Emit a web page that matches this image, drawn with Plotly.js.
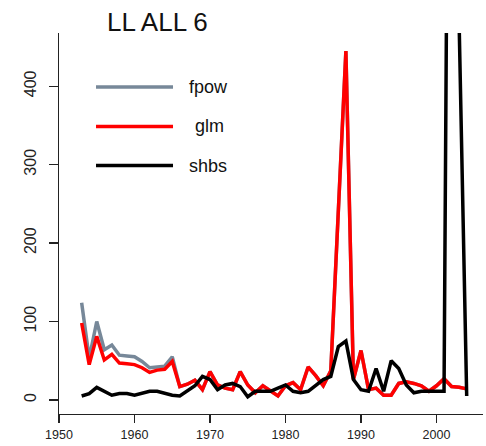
<!DOCTYPE html>
<html>
<head>
<meta charset="utf-8">
<script src="https://cdn.plot.ly/plotly-3.0.1.min.js"></script>
<style>html,body{margin:0;padding:0;background:#fff;}#chart{width:486px;height:446px;}</style>
</head>
<body>
<div id="chart"></div>
<script>
var years = [1953,1954,1955,1956,1957,1958,1959,1960,1961,1962,1963,1964,1965,1966,1967,1968,1969,1970,1971,1972,1973,1974,1975,1976,1977,1978,1979,1980,1981,1982,1983,1984,1985,1986,1987,1988,1989,1990,1991,1992,1993,1994,1995,1996,1997,1998,1999,2000,2001,2002,2003,2004];

var fpow = [124,53,100,64,70,57,56,55,49,41,42,43,55,17,20,25,13,36,19,15,13,36,19,9,18,11,5,18,22,13,42,31,18,37,250,445,26,63,13,15,6,6,21,23,21,18,11,18,27,17,16,14];

var glm = [98,45,81,51,58,47,46,45,41,35,38,39,49,17,20,25,13,36,19,15,13,36,19,9,18,11,5,18,22,13,42,31,18,37,250,445,26,63,13,15,6,6,21,23,21,18,11,18,27,17,16,14];

var shbs = [5,8,16,11,6,8,8,6,8,11,11,8,6,5,11,18,30,26,13,19,21,17,4,11,11,11,15,19,11,9,11,19,26,30,68,75,26,13,11,40,11,50,40,19,9,11,11,11,11,1500,480,5];

var seriesNames = ['fpow','glm','shbs'];
var seriesColors = ['#778899','#ff0000','#000000'];
var xTicks = [1950,1960,1970,1980,1990,2000];
var yTicks = [0,100,200,300,400];

var font = '"Liberation Sans", Arial, Helvetica, sans-serif';
var dataSets = [fpow, glm, shbs];
var traces = dataSets.map(function(d, i){
  return {x: years, y: d, type: 'scatter', mode: 'lines', name: seriesNames[i],
          line: {color: seriesColors[i], width: 3.5}, showlegend: false};
});

// legend drawn manually (long keys like the original)
var legY = [0.858, 0.7546, 0.652];
var legTextX = [0.3019, 0.3153, 0.3019];
var shapes = [], annotations = [];
seriesNames.forEach(function(n, i){
  shapes.push({type:'line', xref:'paper', yref:'paper', x0:0.0873, x1:0.2689, y0:legY[i], y1:legY[i],
               line:{color:seriesColors[i], width:3.5}});
  annotations.push({xref:'paper', yref:'paper', x:legTextX[i], y:legY[i], xanchor:'left', yanchor:'middle',
                    text:n, showarrow:false, font:{family:font, size:18, color:'#111'}});
});

var layout = {
  width: 486, height: 446,
  margin: {l:59, r:3, t:33, b:32},
  paper_bgcolor: '#fff', plot_bgcolor: '#fff',
  title: {text:'LL ALL 6', font:{family:font, size:26, color:'#111'},
          xref:'container', yref:'container', x:0.324, xanchor:'center', y:0.951, yanchor:'middle'},
  xaxis: {range:[1950, 2006.16], tickvals:xTicks, ticktext:xTicks.map(String),
          showgrid:false, zeroline:false, showline:true, linecolor:'#222', linewidth:1.3,
          ticks:'outside', ticklen:8, tickwidth:1.3, tickcolor:'#222',
          tickfont:{family:font, size:12.5, color:'#222'}, ticklabelstandoff:1},
  yaxis: {range:[-18, 468], tickvals:yTicks, ticktext:yTicks.map(String), tickangle:-90,
          showgrid:false, zeroline:false, showline:true, linecolor:'#222', linewidth:1.3,
          ticks:'outside', ticklen:9, tickwidth:1.3, tickcolor:'#222',
          tickfont:{family:font, size:16, color:'#222'}, ticklabelstandoff:6},
  shapes: shapes,
  annotations: annotations,
  showlegend: false
};

Plotly.newPlot('chart', traces, layout, {staticPlot:true, displayModeBar:false});
</script>
</body>
</html>
